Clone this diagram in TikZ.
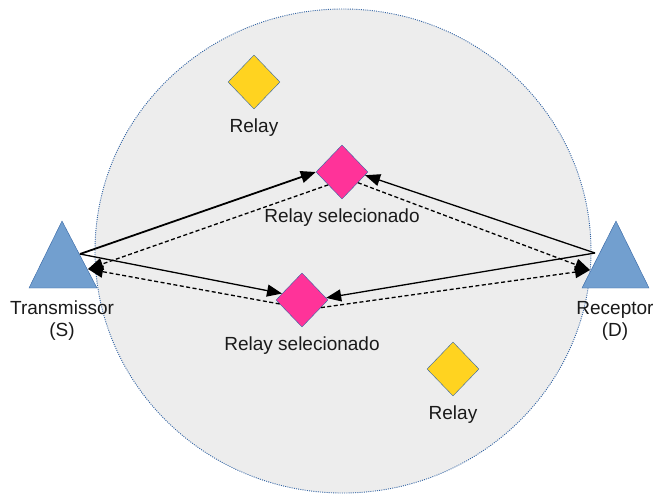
\documentclass[tikz,border=0pt]{standalone}
\usepackage{fontspec}
\setmainfont{Liberation Sans}
\usetikzlibrary{shapes.geometric, arrows.meta, positioning}

\definecolor{cellgray}{HTML}{EDEDED}
\definecolor{lineblue}{HTML}{3465A4}
\definecolor{antblue}{HTML}{729FCF}
\definecolor{relayyellow}{HTML}{FFD320}
\definecolor{relaypink}{HTML}{FF3399}
\definecolor{textgray}{HTML}{1A1A1A}

\tikzset{
    relay/.style={diamond, draw=lineblue, fill=relayyellow, minimum width=52pt, minimum height=54pt, inner sep=0pt},
    selected/.style={relay, fill=relaypink},
    antenna/.style={draw=lineblue, fill=antblue},
    lbl/.style={font=\fontsize{19}{22}\selectfont, text=textgray, align=center},
    link/.style={-{Triangle[length=15pt,width=12pt]}, line width=1.3pt},
    back/.style={link, dashed, dash pattern=on 4pt off 2.5pt}
}

\begin{document}
\begin{tikzpicture}[x=1pt, y=-1pt]
    \useasboundingbox (0,0) rectangle (654,496);

    % Coverage area
    \draw[lineblue, line width=0.9pt, dash pattern=on 1pt off 1.2pt, fill=cellgray] (343,251) ellipse [x radius=248, y radius=242];

    % Transmitter and receiver
    \draw[antenna] (62,221) -- (97,288) -- (29,288) -- cycle;
    \draw[antenna] (616,221) -- (649,288) -- (582,288) -- cycle;
    \coordinate (s out) at (80,254);
    \coordinate (s in) at (88,269);
    \coordinate (d out) at (595,253);
    \coordinate (d in) at (590,270);
    \node[lbl] (s lbl) at (62,321) {Transmissor\\(S)};
    \node[lbl] (d lbl) at (615,321) {Receptor\\(D)};

    % Relays
    \node[relay] (r1) at (254,82) {};
    \node[lbl, below=5.5pt of r1] (r1 lbl) {Relay};
    \node[relay] (r2) at (453,369) {};
    \node[lbl, below=5.5pt of r2] (r2 lbl) {Relay};
    \node[selected] (sel1) at (342,172) {};
    \node[lbl, below=5.5pt of sel1] (sel1 lbl) {Relay selecionado};
    \node[selected] (sel2) at (302,300) {};
    \node[lbl, below=5.5pt of sel2] (sel2 lbl) {Relay selecionado};

    % First hop and second hop
    \draw[link, line width=1.8pt] (s out) -- (sel1.west);
    \draw[link] (s out) -- (sel2.162);
    \draw[link] (d out) -- (sel1.-8);
    \draw[link] (d out) -- (sel2.5);

    % Feedback
    \draw[back] (sel1.223) -- (s in);
    \draw[back] (sel2.190) -- (s in);
    \draw[back] (sel1.-34) -- (d in);
    \draw[back] (sel2.-22) -- (d in);
\end{tikzpicture}
\end{document}
